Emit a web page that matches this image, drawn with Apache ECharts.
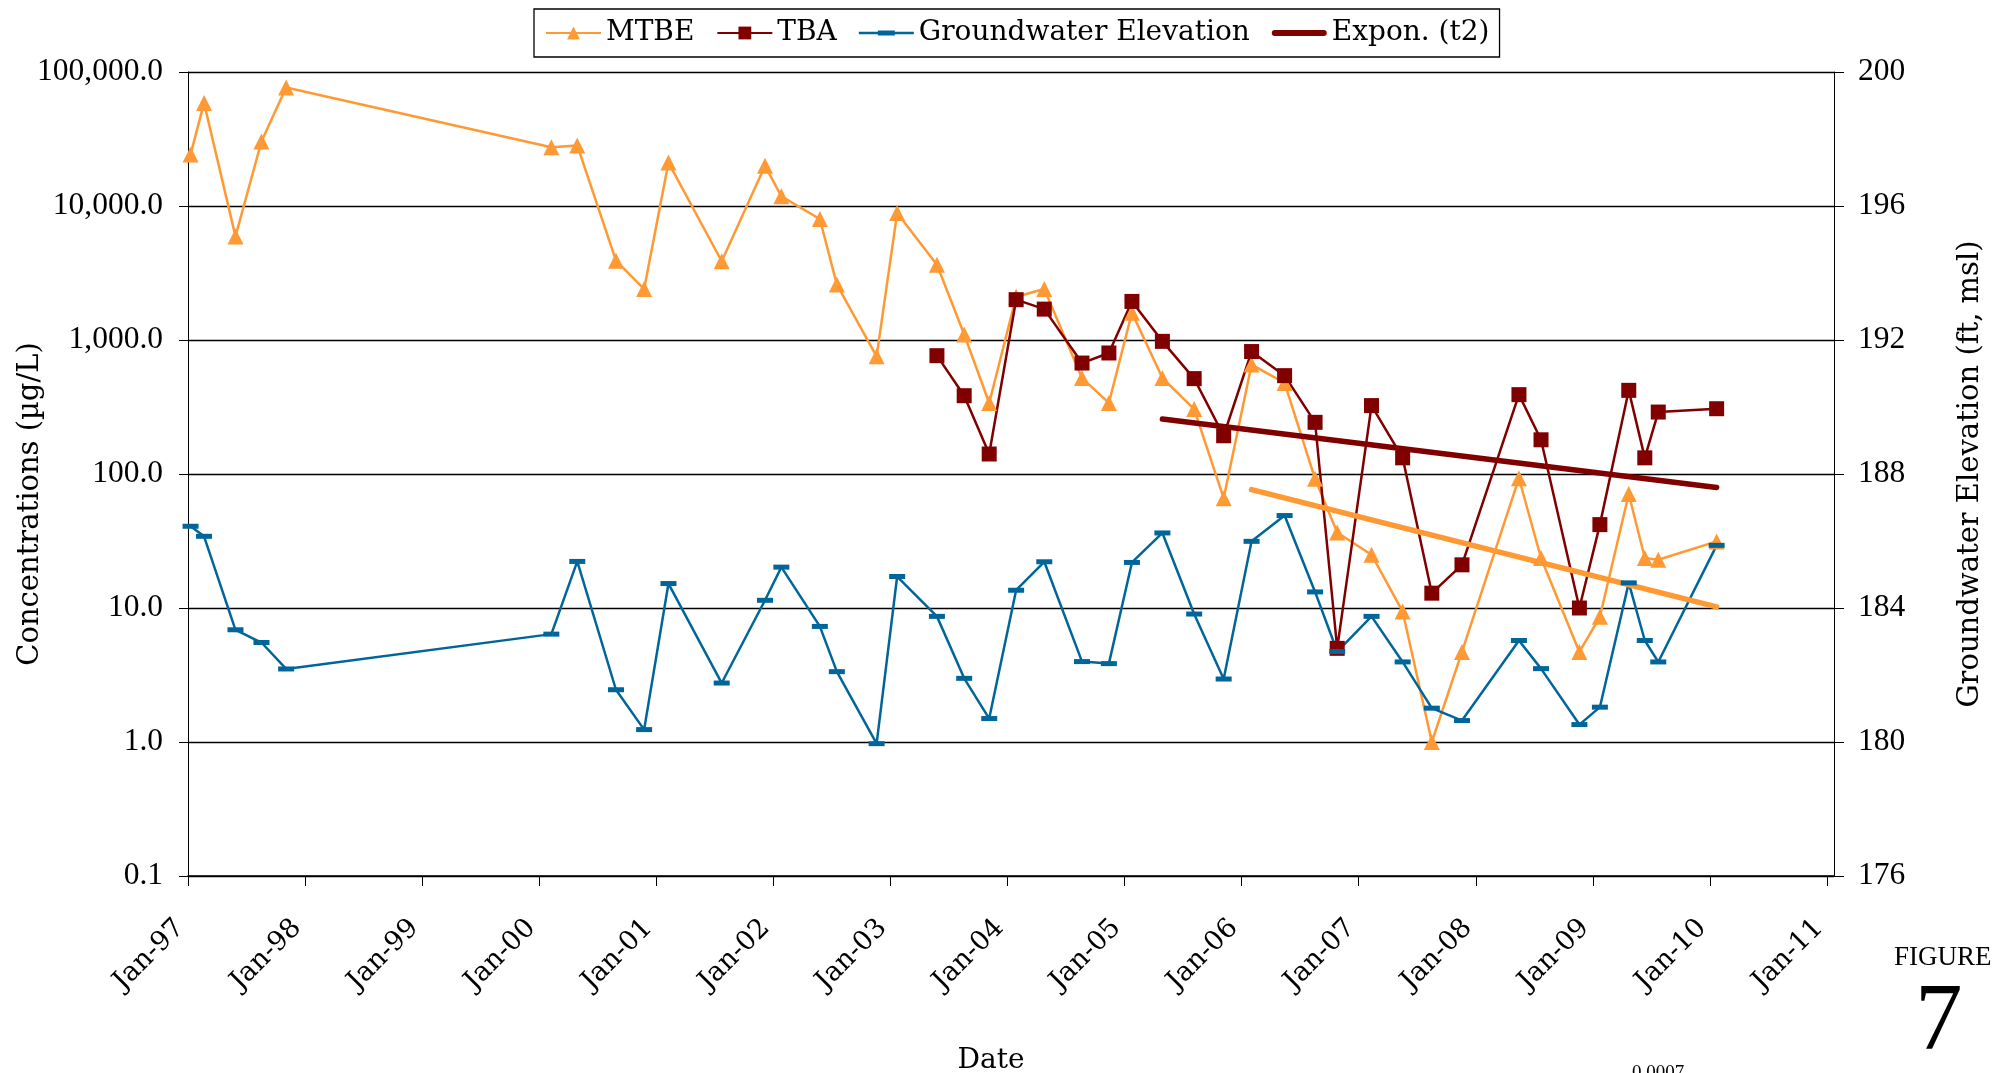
<!DOCTYPE html>
<html>
<head>
<meta charset="utf-8">
<script src="https://cdn.jsdelivr.net/npm/echarts@6/dist/echarts.min.js"></script>
<style>
  html, body { margin: 0; padding: 0; background: #fff; }
  #chart { width: 2007px; height: 1073px; }
</style>
</head>
<body>
<div id="chart"></div>
<script>
// sampling dates (shared by MTBE and groundwater)
const sampleDates = [
  "1997-01-09", "1997-02-20", "1997-05-29", "1997-08-18", "1997-11-03",
  "2000-02-08", "2000-04-29", "2000-08-28", "2000-11-24",
  "2001-02-08", "2001-07-24", "2001-12-06",
  "2002-01-26", "2002-05-26", "2002-07-18", "2002-11-19",
  "2003-01-22", "2003-05-26", "2003-08-19", "2003-11-05",
  "2004-01-28", "2004-04-25", "2004-08-21", "2004-11-13",
  "2005-01-24", "2005-04-29", "2005-08-06", "2005-11-06",
  "2006-02-01", "2006-05-15", "2006-08-18", "2006-10-26",
  "2007-02-10", "2007-05-18", "2007-08-17", "2007-11-19",
  "2008-05-15", "2008-07-23", "2008-11-20",
  "2009-01-23", "2009-04-23", "2009-06-12", "2009-07-24",
  "2010-01-22"
];

// MTBE (ug/L)
const mtbe = [
  24200, 58800, 5930, 30300, 76700,
  27400, 28300, 3910, 2400,
  21100, 3870, 20000,
  11800, 8000, 2590, 755,
  8870, 3650, 1100, 339,
  2100, 2400, 520, 339,
  1600, 520, 305, 66,
  655, 478, 92, 36.6,
  25, 9.4, 1.0, 4.7,
  93, 23.6, 4.7,
  8.6, 71, 23.6, 22.9,
  31.4
];

// TBA starts with the May 2003 event
const tbaDates = sampleDates.slice(17);
const tba = [
  764, 384, 141,
  2000, 1700, 673, 800,
  1940, 977, 515, 193,
  820, 542, 243, 5.0,
  324, 132, 12.9, 21,
  391, 180, 10,
  41.9, 421, 132, 290,
  307
];

// groundwater elevation (ft msl)
const groundwater = [
  186.44, 186.14, 183.35, 182.97, 182.18,
  183.22, 185.39, 181.56, 180.37,
  184.73, 181.76, 184.23,
  185.22, 183.45, 182.10, 179.95,
  184.94, 183.75, 181.90, 180.70,
  184.53, 185.38, 182.40, 182.34,
  185.36, 186.24, 183.82, 181.88,
  185.99, 186.76, 184.48, 182.70,
  183.75, 182.39, 181.01, 180.64,
  183.03, 182.19, 180.52,
  181.04, 184.75, 183.03, 182.39,
  185.87
];

// exponential trendlines (end points)
const tbaTrendDates = ["2005-04-29", "2010-01-22"];
const tbaTrend = [257, 79.4];
const mtbeTrendDates = ["2006-02-01", "2010-01-22"];
const mtbeTrend = [76.4, 10.2];

const tickYears = [1997, 1998, 1999, 2000, 2001, 2002, 2003, 2004, 2005, 2006, 2007, 2008, 2009, 2010, 2011];

const NUM_FONT = '"Liberation Serif", serif';
const TXT_FONT = '"DejaVu Serif", "Liberation Serif", serif';

// date string -> decimal year
function toYear(s) {
  const d = Date.parse(s + "T00:00:00Z");
  const y = Number(s.slice(0, 4));
  const a = Date.UTC(y, 0, 1);
  const b = Date.UTC(y + 1, 0, 1);
  return y + (d - a) / (b - a);
}

const pairs = (dates, vals) => dates.map((d, i) => [toYear(d), vals[i]]);

const chart = echarts.init(document.getElementById("chart"));

const option = {
  animation: false,
  backgroundColor: "#fff",
  legend: {
    data: [
      "MTBE",
      "TBA",
      { name: "Groundwater Elevation", icon: "path://M0,7 H55 V9.5 H0 Z M19,5.8 H36 V10.7 H19 Z" },
      { name: "Expon. (t2)", icon: "path://M3,5 H52 A3,3 0 0 1 52,11 H3 A3,3 0 0 1 3,5 Z" },
    ],
    left: 534,
    top: 9,
    padding: [10, 10, 10, 11],
    itemWidth: 55,
    itemHeight: 16,
    itemGap: 22,
    borderColor: "#000",
    borderWidth: 1.3,
    backgroundColor: "#fff",
    textStyle: { fontFamily: TXT_FONT, fontSize: 28, color: "#000" },
  },
  grid: {
    left: 188,
    right: 173,
    top: 72,
    bottom: 197,
    containLabel: false,
    outerBoundsMode: "none",
  },
  xAxis: {
    type: "value",
    min: 1997,
    max: 2011.06,
    interval: 1,
    name: "Date",
    nameLocation: "middle",
    nameGap: 171,
    nameMoveOverlap: false,
    nameTextStyle: { fontFamily: TXT_FONT, fontSize: 28, color: "#000", padding: [0, 40, 0, 0] },
    axisLine: { show: true, onZero: false, lineStyle: { color: "#000", width: 1.5 } },
    axisTick: { show: true, length: 10, customValues: tickYears, lineStyle: { color: "#000", width: 1 } },
    axisLabel: {
      customValues: tickYears,
      rotate: 45,
      margin: 40,
      padding: [0, 11, 0, 0],
      fontFamily: TXT_FONT,
      fontSize: 27,
      color: "#000",
      formatter: (v) => "Jan-" + String(Math.round(v) % 100).padStart(2, "0"),
    },
    splitLine: { show: false },
  },
  yAxis: [
    {
      type: "log",
      logBase: 10,
      min: 0.1,
      max: 100000,
      name: "Concentrations (µg/L)",
      nameLocation: "middle",
      nameRotate: 90,
      nameGap: 143,
      nameMoveOverlap: false,
      nameTextStyle: { fontFamily: TXT_FONT, fontSize: 29, color: "#000", padding: [0, 60, 0, 0] },
      axisLine: { show: true, lineStyle: { color: "#000", width: 1 } },
      axisTick: { show: true, length: 9, lineStyle: { color: "#000", width: 1 } },
      minorTick: { show: false },
      axisLabel: {
        margin: 25,
        fontFamily: NUM_FONT,
        fontSize: 31.5,
        color: "#000",
        formatter: (v) =>
          Number(v).toLocaleString("en-US", { minimumFractionDigits: 1, maximumFractionDigits: 1 }),
      },
      splitLine: { show: true, lineStyle: { color: "#000", width: 1.3 } },
    },
    {
      type: "value",
      position: "right",
      min: 176,
      max: 200,
      interval: 4,
      name: "Groundwater Elevation (ft, msl)",
      nameLocation: "middle",
      nameRotate: 90,
      nameGap: 122,
      nameMoveOverlap: false,
      nameTextStyle: { fontFamily: TXT_FONT, fontSize: 29, color: "#000" },
      axisLine: { show: true, lineStyle: { color: "#000", width: 1 } },
      axisTick: { show: true, length: 10, lineStyle: { color: "#000", width: 1 } },
      axisLabel: { margin: 24, fontFamily: NUM_FONT, fontSize: 31.5, color: "#000" },
      splitLine: { show: false },
    },
  ],
  series: [
    {
      name: "MTBE",
      type: "line",
      data: pairs(sampleDates, mtbe),
      symbol: "triangle",
      symbolSize: 16,
      lineStyle: { color: "#FF9933", width: 2.5 },
      itemStyle: { color: "#FF9933" },
    },
    {
      name: "TBA",
      type: "line",
      data: pairs(tbaDates, tba),
      symbol: "rect",
      symbolSize: 15,
      lineStyle: { color: "#800000", width: 2.5 },
      itemStyle: { color: "#800000" },
    },
    {
      name: "Groundwater Elevation",
      type: "line",
      yAxisIndex: 1,
      data: pairs(sampleDates, groundwater),
      symbol: "rect",
      symbolSize: [16, 5],
      lineStyle: { color: "#006699", width: 2.5 },
      itemStyle: { color: "#006699" },
    },
    {
      name: "Expon. (MTBE)",
      type: "line",
      data: pairs(mtbeTrendDates, mtbeTrend),
      symbol: "none",
      lineStyle: { color: "#FF9933", width: 5.5, cap: "round" },
      itemStyle: { color: "#FF9933" },
    },
    {
      name: "Expon. (t2)",
      type: "line",
      data: pairs(tbaTrendDates, tbaTrend),
      symbol: "none",
      lineStyle: { color: "#800000", width: 5.5, cap: "round" },
      itemStyle: { color: "#800000" },
    },
  ],
  graphic: [
    {
      type: "text",
      left: 1894,
      top: 944,
      style: { text: "FIGURE", font: '27px "Liberation Serif", serif', fill: "#000" },
    },
    {
      type: "text",
      left: 1915,
      top: 977,
      style: { text: "7", font: '95px "Liberation Serif", serif', fill: "#000" },
    },
    {
      type: "text",
      left: 1632,
      top: 1064,
      style: { text: "0.0007", font: '19px "Liberation Serif", serif', fill: "#000" },
    },
  ],
};

chart.setOption(option);
</script>
</body>
</html>
